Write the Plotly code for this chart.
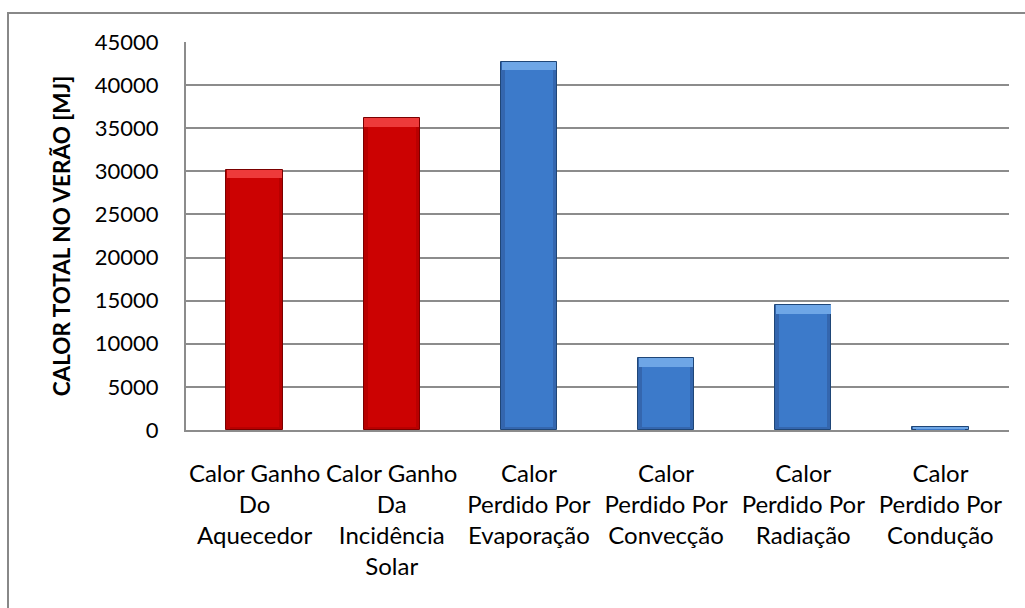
import plotly.graph_objects as go

# Heat balance for the summer period, in MJ
categories = [
    "Calor Ganho<br>Do<br>Aquecedor",
    "Calor Ganho<br>Da<br>Incidência<br>Solar",
    "Calor<br>Perdido Por<br>Evaporação",
    "Calor<br>Perdido Por<br>Convecção",
    "Calor<br>Perdido Por<br>Radiação",
    "Calor<br>Perdido Por<br>Condução",
]
values = [30200, 36200, 42700, 8300, 14500, 300]
kind = ["ganho", "ganho", "perda", "perda", "perda", "perda"]

y_ticks = [0, 5000, 10000, 15000, 20000, 25000, 30000, 35000, 40000, 45000]

# bevelled-bar palette per kind: body, rim, top highlight, bottom shade, centre sheen
palette = {
    "ganho": dict(body="#B80000", rim="#7A0000", top="#EE3A3A", bottom="#A80000", sheen="#CC0202"),
    "perda": dict(body="#3466AE", rim="#1F4677", top="#6EA6E6", bottom="#3161A6", sheen="#3C7ACA"),
}

FONT = "Lato, Carlito, Calibri, sans-serif"
BAR_W = 0.41
BEVEL = 1000  # bevel depth in MJ units

x_idx = list(range(len(categories)))
fig = go.Figure()

# main body with dark rim
fig.add_trace(go.Bar(
    x=x_idx, y=values, width=BAR_W,
    marker=dict(color=[palette[k]["body"] for k in kind],
                line=dict(color=[palette[k]["rim"] for k in kind], width=1)),
    hoverinfo="skip", showlegend=False,
))
# centre sheen, leaving darker vertical edges
fig.add_trace(go.Bar(
    x=x_idx, y=[v - min(BEVEL, v / 3) for v in values],
    base=[min(BEVEL * 0.4, v / 5) for v in values], width=BAR_W * 0.86,
    marker=dict(color=[palette[k]["sheen"] for k in kind], line=dict(width=0)),
    hoverinfo="skip", showlegend=False,
))
# top bevel highlight
fig.add_trace(go.Bar(
    x=x_idx, y=[min(BEVEL, v / 3) for v in values],
    base=[v - min(BEVEL, v / 3) for v in values], width=BAR_W * 0.97,
    marker=dict(color=[palette[k]["top"] for k in kind], line=dict(width=0)),
    hoverinfo="skip", showlegend=False,
))

fig.update_layout(
    width=1025, height=608,
    margin=dict(l=186, r=16, t=42, b=178),
    paper_bgcolor="white", plot_bgcolor="white",
    barmode="overlay", bargap=0,
    font=dict(family=FONT, size=22, color="black"),
    xaxis=dict(
        tickmode="array", tickvals=x_idx, ticktext=categories,
        range=[-0.5, len(categories) - 0.5],
        showgrid=False, zeroline=False,
        showline=True, linecolor="#8c8c8c", linewidth=2,
        ticks="", ticklabelstandoff=21,
        tickfont=dict(family=FONT, size=24, color="black"),
    ),
    yaxis=dict(
        range=[0, 45000], tickvals=y_ticks, ticktext=[str(t) for t in y_ticks],
        showgrid=True, gridcolor="#8c8c8c", gridwidth=2,
        zeroline=False, showline=True, linecolor="#8c8c8c", linewidth=2,
        ticks="", ticklabelstandoff=21,
        tickfont=dict(family=FONT, size=22, color="black"),
        title=dict(text="<b>CALOR TOTAL NO VERÃO [MJ]</b>", standoff=18,
                   font=dict(family=FONT, size=22.5, color="black")),
        automargin=False,
    ),
    shapes=[dict(
        type="rect", xref="paper", yref="paper",
        x0=(8 - 186) / 823, x1=(1040 - 186) / 823,
        y0=(430 - 620) / 388, y1=(430 - 13) / 388,
        line=dict(color="#888888", width=2), fillcolor="rgba(0,0,0,0)", layer="below",
    )],
)

fig.write_html("out.html")
